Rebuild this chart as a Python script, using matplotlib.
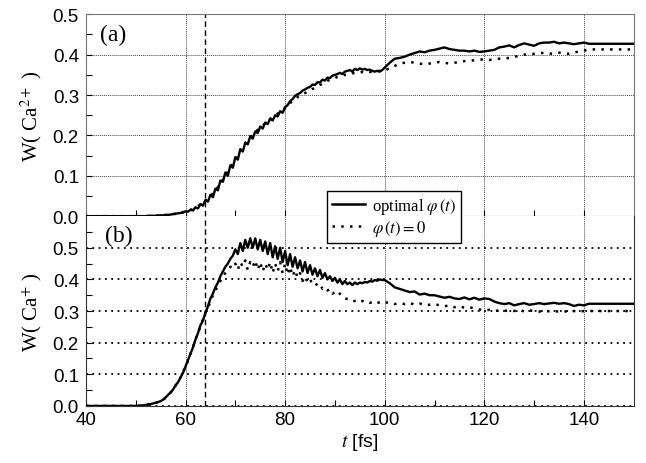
import numpy as np
import matplotlib
matplotlib.use("Agg")
import matplotlib.pyplot as plt
from matplotlib.lines import Line2D

plt.rcParams['font.family'] = ['Liberation Sans', 'DejaVu Sans']
plt.rcParams['mathtext.fontset'] = 'stix'

# time samples (fs): coarse before 55, 0.5 fs in the oscillating part, 1 fs after 100
t = np.concatenate([np.arange(40, 55, 1.0), np.arange(55, 100, 0.5), np.arange(100, 151, 1.0)])

# panel (a): W(Ca2+)
a_opt = [0, 0, 0, 0, 0, 0, 0, 0, 0, 0, 0, 0, 0, 0.001, 0.001,
         0.002, 0.002, 0.003, 0.003, 0.004, 0.005, 0.006, 0.007, 0.008, 0.009,
         0.012, 0.011, 0.016, 0.014, 0.022, 0.019, 0.030, 0.026, 0.040, 0.036,
         0.053, 0.047, 0.068, 0.064, 0.088, 0.085, 0.108, 0.100, 0.126, 0.120,
         0.146, 0.140, 0.166, 0.160, 0.182, 0.178, 0.198, 0.192, 0.210, 0.206,
         0.222, 0.217, 0.232, 0.228, 0.242, 0.237, 0.250, 0.247, 0.260, 0.256,
         0.270, 0.275, 0.285, 0.290, 0.298, 0.302, 0.305, 0.311, 0.314, 0.318,
         0.320, 0.326, 0.325, 0.332, 0.331, 0.338, 0.336, 0.343, 0.342, 0.348,
         0.350, 0.352, 0.355, 0.352, 0.358, 0.360, 0.362, 0.358, 0.365, 0.362,
         0.366, 0.363, 0.365, 0.362, 0.363, 0.360, 0.358, 0.360, 0.358, 0.362,
         0.368, 0.380, 0.390, 0.392, 0.395, 0.400, 0.404, 0.408, 0.406, 0.410,
         0.412, 0.415, 0.418, 0.414, 0.412, 0.410, 0.410, 0.408, 0.410, 0.407,
         0.408, 0.410, 0.412, 0.418, 0.420, 0.423, 0.418, 0.424, 0.428, 0.425,
         0.422, 0.428, 0.430, 0.430, 0.432, 0.428, 0.430, 0.428, 0.426, 0.428,
         0.430, 0.427, 0.427, 0.427, 0.427, 0.427, 0.427, 0.427, 0.427, 0.427, 0.427]

a_zero = [0, 0, 0, 0, 0, 0, 0, 0, 0, 0, 0, 0, 0, 0.001, 0.001,
          0.002, 0.002, 0.003, 0.003, 0.004, 0.005, 0.006, 0.007, 0.008, 0.010,
          0.011, 0.013, 0.015, 0.018, 0.021, 0.025, 0.029, 0.033, 0.038, 0.043,
          0.050, 0.056, 0.065, 0.072, 0.083, 0.090, 0.103, 0.110, 0.122, 0.130,
          0.142, 0.150, 0.162, 0.170, 0.180, 0.188, 0.195, 0.202, 0.208, 0.214,
          0.220, 0.224, 0.230, 0.235, 0.240, 0.244, 0.250, 0.254, 0.258, 0.262,
          0.268, 0.272, 0.280, 0.285, 0.290, 0.295, 0.298, 0.302, 0.305, 0.308,
          0.310, 0.315, 0.318, 0.322, 0.325, 0.328, 0.332, 0.335, 0.338, 0.340,
          0.342, 0.345, 0.345, 0.348, 0.350, 0.350, 0.352, 0.354, 0.354, 0.356,
          0.356, 0.357, 0.356, 0.358, 0.357, 0.358, 0.358, 0.359, 0.360, 0.360,
          0.362, 0.366, 0.372, 0.378, 0.380, 0.382, 0.380, 0.378, 0.376, 0.378,
          0.380, 0.382, 0.380, 0.378, 0.380, 0.382, 0.384, 0.385, 0.386, 0.388,
          0.388, 0.387, 0.388, 0.390, 0.390, 0.392, 0.394, 0.398, 0.400, 0.402,
          0.402, 0.403, 0.405, 0.403, 0.402, 0.405, 0.404, 0.402, 0.405, 0.408,
          0.410, 0.413, 0.413, 0.413, 0.413, 0.413, 0.413, 0.413, 0.413, 0.413, 0.413]

# panel (b): W(Ca+)
b_opt = [0, 0, 0, 0, 0, 0, 0, 0, 0, 0, 0, 0.001, 0.003, 0.006, 0.010,
         0.015, 0.020, 0.027, 0.035, 0.042, 0.052, 0.065, 0.075, 0.090, 0.105,
         0.125, 0.145, 0.165, 0.185, 0.210, 0.230, 0.255, 0.270, 0.295, 0.315,
         0.340, 0.355, 0.375, 0.390, 0.410, 0.425, 0.440, 0.450, 0.465, 0.475,
         0.495, 0.480, 0.515, 0.490, 0.525, 0.500, 0.530, 0.500, 0.530, 0.495,
         0.525, 0.490, 0.520, 0.480, 0.515, 0.470, 0.505, 0.465, 0.500, 0.455,
         0.490, 0.445, 0.480, 0.440, 0.470, 0.435, 0.460, 0.425, 0.455, 0.420,
         0.445, 0.415, 0.435, 0.410, 0.430, 0.405, 0.420, 0.400, 0.410, 0.395,
         0.405, 0.390, 0.400, 0.385, 0.395, 0.385, 0.390, 0.382, 0.390, 0.385,
         0.390, 0.388, 0.392, 0.390, 0.395, 0.393, 0.398, 0.396, 0.400, 0.398,
         0.398, 0.388, 0.375, 0.370, 0.365, 0.360, 0.362, 0.352, 0.355, 0.350,
         0.350, 0.346, 0.342, 0.345, 0.340, 0.338, 0.343, 0.337, 0.342, 0.336,
         0.340, 0.338, 0.330, 0.325, 0.322, 0.325, 0.318, 0.322, 0.325, 0.320,
         0.322, 0.325, 0.322, 0.324, 0.326, 0.323, 0.325, 0.322, 0.316, 0.320,
         0.318, 0.323, 0.323, 0.323, 0.323, 0.323, 0.323, 0.323, 0.323, 0.323, 0.323]

b_zero = [0, 0, 0, 0, 0, 0, 0, 0, 0, 0, 0, 0.001, 0.003, 0.006, 0.010,
          0.014, 0.019, 0.026, 0.034, 0.043, 0.053, 0.064, 0.077, 0.090, 0.107,
          0.125, 0.143, 0.165, 0.188, 0.210, 0.232, 0.250, 0.275, 0.295, 0.310,
          0.330, 0.350, 0.365, 0.380, 0.395, 0.410, 0.420, 0.430, 0.440, 0.435,
          0.450, 0.430, 0.455, 0.440, 0.460, 0.430, 0.455, 0.440, 0.460, 0.430,
          0.455, 0.425, 0.450, 0.430, 0.455, 0.420, 0.450, 0.425, 0.455, 0.420,
          0.450, 0.415, 0.440, 0.410, 0.430, 0.405, 0.420, 0.395, 0.410, 0.390,
          0.400, 0.385, 0.390, 0.380, 0.385, 0.370, 0.375, 0.365, 0.370, 0.355,
          0.360, 0.350, 0.355, 0.345, 0.340, 0.338, 0.335, 0.330, 0.332, 0.335,
          0.330, 0.332, 0.328, 0.330, 0.326, 0.328, 0.330, 0.325, 0.328, 0.330,
          0.326, 0.328, 0.322, 0.325, 0.322, 0.326, 0.320, 0.324, 0.318, 0.320,
          0.322, 0.318, 0.315, 0.318, 0.312, 0.316, 0.310, 0.312, 0.308, 0.305,
          0.302, 0.304, 0.300, 0.302, 0.300, 0.303, 0.300, 0.305, 0.298, 0.302,
          0.300, 0.298, 0.302, 0.299, 0.300, 0.298, 0.300, 0.296, 0.300, 0.298,
          0.300, 0.300, 0.300, 0.300, 0.300, 0.300, 0.300, 0.300, 0.300, 0.300, 0.300]

t_mark = 64  # dashed marker line

serif = ['Liberation Serif', 'DejaVu Serif']
dots = (0, (1, 2.5))

fig = plt.figure(figsize=(6.46, 4.64), dpi=100)
ax_a = fig.add_axes([0.133, 0.532, 0.848, 0.435])
ax_b = fig.add_axes([0.133, 0.123, 0.848, 0.409])

for ax, y1, y2, ymax in [(ax_a, a_opt, a_zero, 0.5), (ax_b, b_opt, b_zero, 0.6)]:
    ax.plot(t, y1, color='black', lw=1.7, zorder=3)
    ax.plot(t, y2, color='black', lw=1.8, linestyle=dots, zorder=3)
    ax.axvline(t_mark, color='black', lw=1.0, linestyle=(0, (4, 2.5)), zorder=2)
    ax.set_xlim(40, 150)
    ax.set_ylim(0, ymax)
    ax.set_xticks([40, 60, 80, 100, 120, 140])
    ax.set_xticks([50, 70, 90, 110, 130], minor=True)
    ax.set_yticks(np.arange(0, 0.51, 0.1))
    ax.set_yticks(np.arange(0.05, ymax, 0.1), minor=True)
    ax.tick_params(which='both', direction='in', labelsize=13.5, length=4, width=0.8)
    ax.tick_params(axis='y', pad=5)
    ax.xaxis.grid(True, linestyle=(0, (1, 1)), lw=0.7, color='#444444')

ax_a.yaxis.grid(True, linestyle=(0, (1, 1)), lw=0.7, color='#444444')
ax_b.yaxis.grid(True, linestyle=(0, (1, 2.5)), lw=1.3, color='black')
ax_a.set_yticklabels(['0.0', '0.1', '0.2', '0.3', '0.4', '0.5'])
ax_b.set_yticklabels(['0.0', '0.1', '0.2', '0.3', '0.4', '0.5'])
ax_a.tick_params(axis='x', labelbottom=False)
for s in ax_a.spines.values():
    s.set_color('#777777')
ax_a.spines['bottom'].set_color('#555555')
for s in ax_b.spines.values():
    s.set_color('#333333')
ax_b.spines['top'].set_visible(False)

ax_a.set_ylabel(r'W( Ca$^{2+}$ )', family=serif, fontsize=15, labelpad=6)
ax_b.set_ylabel(r'W( Ca$^{+}$ )', family=serif, fontsize=15, labelpad=6)
ax_b.set_xlabel(r'$\mathsf{\mathit{t}}$ [fs]', fontsize=14, labelpad=2)

ax_a.text(0.026, 0.9, '(a)', transform=ax_a.transAxes, family=serif, fontsize=17,
          va='center', ha='left')
ax_b.text(0.035, 0.9, '(b)', transform=ax_b.transAxes, family=serif, fontsize=17,
          va='center', ha='left')

handles = [Line2D([], [], color='black', lw=1.8),
           Line2D([], [], color='black', lw=1.8, linestyle=dots)]
labels = [r'optimal $\varphi\,(t)$', r'$\varphi\,(t) = 0$']
leg = fig.legend(handles, labels, loc='upper left', bbox_to_anchor=(0.506, 0.586),
                 prop={'family': serif, 'size': 12}, frameon=True, fancybox=False,
                 edgecolor='black', framealpha=1, borderpad=0.3, handlelength=2.0,
                 handletextpad=0.4, labelspacing=0.1, borderaxespad=0)
leg.get_frame().set_linewidth(1.0)

fig.savefig('out.png', dpi=100)
